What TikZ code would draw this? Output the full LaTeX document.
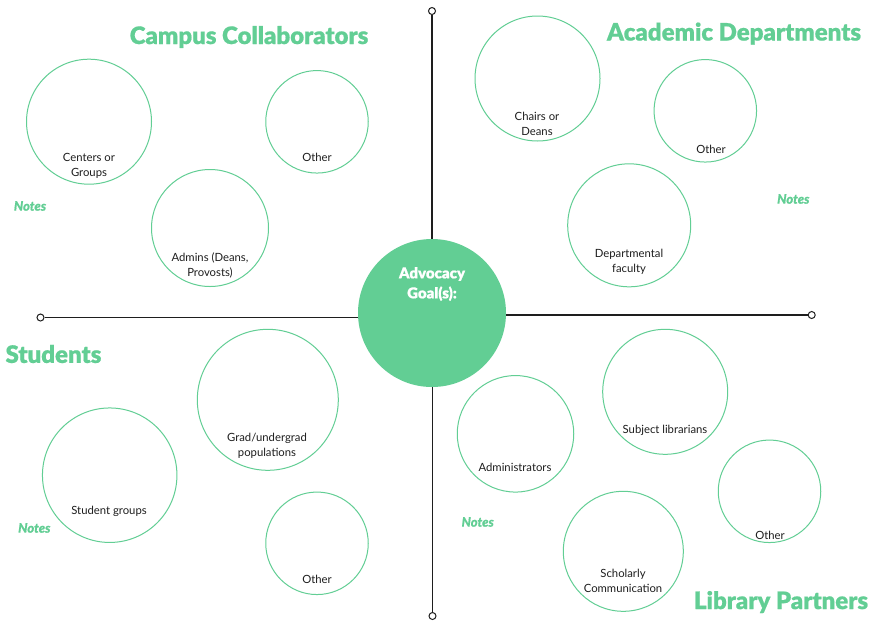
\documentclass[tikz,border=0pt]{standalone}
\usepackage{fontspec}
\setmainfont{Lato}
\newfontfamily\heavy{Lato Black}[FakeBold=0.6]
\definecolor{mint}{RGB}{98,206,148}
\definecolor{ink}{RGB}{30,30,30}
\begin{document}
\begin{tikzpicture}[x=1pt,y=-1pt,
  bubble/.style={circle,draw=mint,line width=1pt,minimum size=#1,inner sep=0pt},
  lbl/.style={font=\fontsize{11.3}{15}\selectfont,text=ink,align=center,inner sep=0pt},
  head/.style={font=\fontsize{24}{28}\selectfont\heavy,text=mint,inner sep=0pt},
  notes/.style={font=\fontsize{13}{15}\selectfont\heavy\itshape,text=mint,inner sep=0pt},
  tip/.style={circle,draw=ink,fill=white,line width=1pt,minimum size=7pt,inner sep=0pt},
  axis/.style={draw=ink,line width=1.1pt}]
\useasboundingbox (0,0) rectangle (870,622);
\fill[white] (0,0) rectangle (870,622);

% central goal and the four axis arms
\node[circle,fill=mint,minimum size=148pt,inner sep=0pt] (goal) at (432,313) {};
\node[font=\fontsize{15}{20}\selectfont\heavy,text=white,align=center] (goaltxt) at (432,284) {Advocacy\\Goal(s):};
\node[tip] (ttop) at (432,11) {};
\node[tip] (tbot) at (432.5,616) {};
\node[tip] (tleft) at (40.5,317.5) {};
\node[tip] (tright) at (811.7,315) {};
\draw[axis] (ttop) -- (ttop |- goal.north);
\draw[axis] (tbot) -- (tbot |- goal.south);
\draw[axis] (tleft) -- (tleft -| goal.west);
\draw[axis] (tright) -- (tright -| goal.east);

% Campus Collaborators
\node[head] (hcampus) at (249,37) {Campus Collaborators};
\node[bubble=125pt] (centers) at (89,121.7) {};
\node[lbl] (centerstxt) at (89,165.5) {Centers or\\Groups};
\node[bubble=102.5pt] (othertl) at (317,121.8) {};
\node[lbl] (othertltxt) at (317,157.7) {Other};
\node[bubble=117pt] (admins) at (210,228) {};
\node[lbl] (adminstxt) at (210,265) {Admins (Deans,\\Provosts)};
\node[notes] (notestl) at (30,206) {Notes};

% Academic Departments
\node[head] (hacad) at (734,33.5) {Academic Departments};
\node[bubble=125pt] (chairs) at (537.5,78.5) {};
\node[lbl] (chairstxt) at (537,123.5) {Chairs or\\Deans};
\node[bubble=102.5pt] (othertr) at (705.3,110.8) {};
\node[lbl] (othertrtxt) at (711,149) {Other};
\node[bubble=123pt] (dept) at (629.2,225.3) {};
\node[lbl] (depttxt) at (629,261.5) {Departmental\\faculty};
\node[notes] (notestr) at (793.3,199) {Notes};

% Students
\node[head] (hstud) at (53.5,354) {Students};
\node[bubble=134.5pt] (sgroups) at (109.7,475.2) {};
\node[lbl] (sgroupstxt) at (109,511) {Student groups};
\node[bubble=141pt] (grad) at (267.8,399.8) {};
\node[lbl] (gradtxt) at (267,446.2) {Grad/undergrad\\populations};
\node[bubble=102.5pt] (otherbl) at (317,543.3) {};
\node[lbl] (otherbltxt) at (317,579.3) {Other};
\node[notes] (notesbl) at (34.3,528) {Notes};

% Library Partners
\node[head] (hlib) at (781,602) {Library Partners};
\node[bubble=116.5pt] (adm) at (515.5,433.8) {};
\node[lbl] (admtxt) at (515,467.7) {Administrators};
\node[bubble=125pt] (subj) at (665.2,391.8) {};
\node[lbl] (subjtxt) at (665,430) {Subject librarians};
\node[bubble=102.5pt] (otherbr) at (769.5,491.3) {};
\node[lbl] (otherbrtxt) at (770,535) {Other};
\node[bubble=120pt] (schol) at (623.3,551.3) {};
\node[lbl] (scholtxt) at (623,581) {Scholarly\\Communication};
\node[notes] (notesbr) at (477.7,522) {Notes};
\end{tikzpicture}
\end{document}
